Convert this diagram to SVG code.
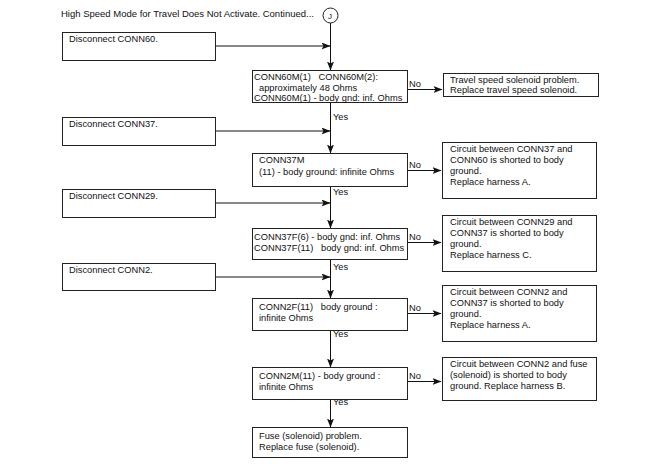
<svg xmlns="http://www.w3.org/2000/svg" width="650" height="464" viewBox="0 0 650 464">
<style>
text{font-family:"Liberation Sans",Arial,sans-serif;font-size:9.3px;fill:#111;white-space:pre}
.box{fill:#fff;stroke:#222;stroke-width:1}
.ln{stroke:#111;stroke-width:1;fill:none}
</style>
<defs>
<marker id="ah" markerWidth="9" markerHeight="7" refX="8.5" refY="3.5" orient="auto" markerUnits="userSpaceOnUse">
<path d="M0,0 L9,3.5 L0,7 L2,3.5 Z" fill="#111"/>
</marker>
</defs>
<rect width="650" height="464" fill="#fff"/>
<text x="61" y="17" style="font-size:9.5px">High Speed Mode for Travel Does Not Activate. Continued...</text>
<g id="connJ"><circle cx="330.5" cy="15.5" r="7.5" fill="#fff" stroke="#222"/><text x="328" y="19" style="font-size:8px">J</text></g>

<g id="connectors">
<path class="ln" d="M330.5,23 V70" marker-end="url(#ah)"/>
<path class="ln" d="M215,46 H330" marker-end="url(#ah)"/>
<path class="ln" d="M330.5,103 V153" marker-end="url(#ah)"/>
<path class="ln" d="M215,131 H330" marker-end="url(#ah)"/>
<path class="ln" d="M330.5,186 V228" marker-end="url(#ah)"/>
<path class="ln" d="M215,203 H330" marker-end="url(#ah)"/>
<path class="ln" d="M330.5,259 V298" marker-end="url(#ah)"/>
<path class="ln" d="M215,277 H330" marker-end="url(#ah)"/>
<path class="ln" d="M330.5,330 V367" marker-end="url(#ah)"/>
<path class="ln" d="M330.5,400 V427" marker-end="url(#ah)"/>
<path class="ln" d="M408,89.5 H442" marker-end="url(#ah)"/>
<path class="ln" d="M408,170.5 H441" marker-end="url(#ah)"/>
<path class="ln" d="M408,242.5 H441" marker-end="url(#ah)"/>
<path class="ln" d="M408,313.5 H441" marker-end="url(#ah)"/>
<path class="ln" d="M408,381.5 H441" marker-end="url(#ah)"/>
<text x="409" y="87">No</text>
<text x="409" y="168">No</text>
<text x="409" y="240">No</text>
<text x="409" y="311">No</text>
<text x="409" y="379">No</text>
<text x="333" y="120">Yes</text>
<text x="333" y="195">Yes</text>
<text x="333" y="270">Yes</text>
<text x="333" y="337">Yes</text>
<text x="333" y="405">Yes</text>
</g>

<g id="dis60"><rect class="box" x="62.5" y="32.5" width="153" height="28"/><text x="69" y="42">Disconnect CONN60.</text></g>
<g id="dis37"><rect class="box" x="62.5" y="117.5" width="153" height="28"/><text x="69" y="127">Disconnect CONN37.</text></g>
<g id="dis29"><rect class="box" x="62.5" y="189.5" width="153" height="28"/><text x="69" y="199">Disconnect CONN29.</text></g>
<g id="dis2"><rect class="box" x="62.5" y="263.5" width="153" height="27"/><text x="69" y="273">Disconnect CONN2.</text></g>

<g id="q1"><rect class="box" x="252.5" y="70.5" width="155" height="32"/>
<text x="254" y="80">CONN60M(1)   CONN60M(2):</text>
<text x="259" y="91">approximately 48 Ohms</text>
<text x="254" y="101">CONN60M(1) - body gnd: inf. Ohms</text></g>
<g id="q2"><rect class="box" x="252.5" y="153.5" width="155" height="33"/>
<text x="259" y="163">CONN37M</text>
<text x="259" y="175">(11) - body ground: infinite Ohms</text></g>
<g id="q3"><rect class="box" x="252.5" y="228.5" width="155" height="31"/>
<text x="254" y="240">CONN37F(6) - body gnd: inf. Ohms</text>
<text x="254" y="251">CONN37F(11)   body gnd: inf. Ohms</text></g>
<g id="q4"><rect class="box" x="252.5" y="298.5" width="155" height="32"/>
<text x="259" y="310">CONN2F(11)   body ground :</text>
<text x="259" y="321">infinite Ohms</text></g>
<g id="q5"><rect class="box" x="252.5" y="367.5" width="155" height="32"/>
<text x="259" y="379">CONN2M(11) - body ground :</text>
<text x="259" y="390">infinite Ohms</text></g>
<g id="fuse"><rect class="box" x="252.5" y="427.5" width="155" height="30"/>
<text x="259" y="439">Fuse (solenoid) problem.</text>
<text x="259" y="450">Replace fuse (solenoid).</text></g>

<g id="r1"><rect class="box" x="443.5" y="73.5" width="155" height="23"/>
<text x="450" y="83">Travel speed solenoid problem.</text>
<text x="450" y="93">Replace travel speed solenoid.</text></g>
<g id="r2"><rect class="box" x="442.5" y="142.5" width="154" height="56"/>
<text x="450" y="152">Circuit between CONN37 and</text>
<text x="450" y="163">CONN60 is shorted to body</text>
<text x="450" y="174">ground.</text>
<text x="450" y="185">Replace harness A.</text></g>
<g id="r3"><rect class="box" x="442.5" y="215.5" width="154" height="56"/>
<text x="450" y="225">Circuit between CONN29 and</text>
<text x="450" y="236">CONN37 is shorted to body</text>
<text x="450" y="247">ground.</text>
<text x="450" y="258">Replace harness C.</text></g>
<g id="r4"><rect class="box" x="442.5" y="285.5" width="154" height="56"/>
<text x="450" y="295">Circuit between CONN2 and</text>
<text x="450" y="306">CONN37 is shorted to body</text>
<text x="450" y="317">ground.</text>
<text x="450" y="328">Replace harness A.</text></g>
<g id="r5"><rect class="box" x="442.5" y="357.5" width="154" height="43"/>
<text x="450" y="367">Circuit between CONN2 and fuse</text>
<text x="450" y="378">(solenoid) is shorted to body</text>
<text x="450" y="389">ground. Replace harness B.</text></g>
</svg>
